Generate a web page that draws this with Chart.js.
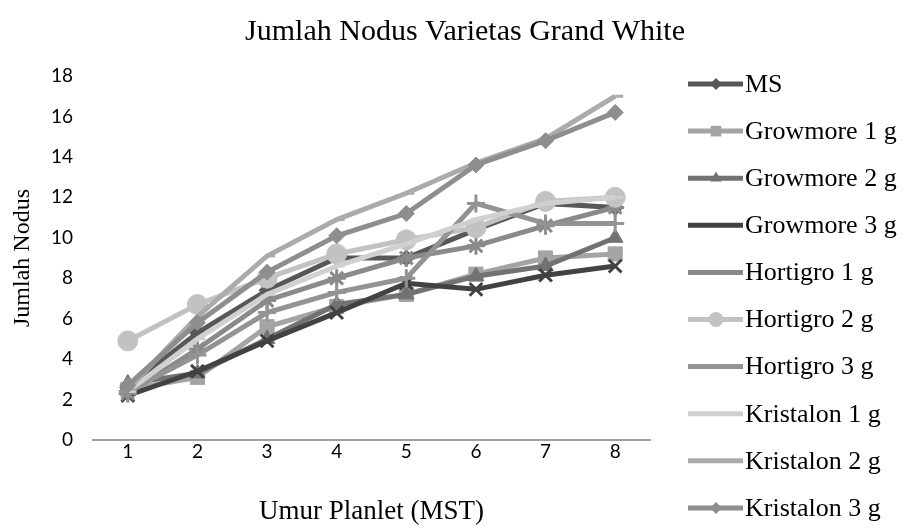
<!DOCTYPE html>
<html>
<head>
<meta charset="utf-8">
<script src="https://cdn.jsdelivr.net/npm/chart.js@4.4.1/dist/chart.umd.min.js"></script>
<style>
  body { margin: 0; background: #fff; }
  #wrap { width: 904px; height: 528px; position: relative; }
</style>
</head>
<body>
<div id="wrap"><canvas id="nodusChart"></canvas></div>
<script>
// data
var weeks = ['1', '2', '3', '4', '5', '6', '7', '8'];
var seriesNames = ['MS', 'Growmore 1 g', 'Growmore 2 g', 'Growmore 3 g', 'Hortigro 1 g',
    'Hortigro 2 g', 'Hortigro 3 g', 'Kristalon 1 g', 'Kristalon 2 g', 'Kristalon 3 g'];
var ms = [2.6, 5.3, 7.4, 9.0, 9.0, 10.4, 11.7, 11.5];
var growmore1 = [2.5, 3.1, 5.6, 6.6, 7.2, 8.2, 9.0, 9.2];
var growmore2 = [2.8, 3.3, 5.0, 6.7, 7.2, 8.1, 8.6, 10.0];
var growmore3 = [2.2, 3.4, 4.9, 6.3, 7.75, 7.45, 8.15, 8.6];
var hortigro1 = [2.3, 4.5, 6.9, 8.0, 9.0, 9.6, 10.6, 11.5];
var hortigro2 = [4.9, 6.7, 8.0, 9.2, 9.9, 10.5, 11.8, 12.0];
var hortigro3 = [2.4, 4.2, 6.3, 7.3, 8.0, 11.7, 10.7, 10.7];
var kristalon1 = [2.4, 5.0, 7.2, 8.6, 9.7, 10.9, 11.7, 12.0];
var kristalon2 = [2.5, 6.1, 9.1, 10.9, 12.2, 13.7, 14.9, 17.0];
var kristalon3 = [2.7, 5.8, 8.3, 10.1, 11.2, 13.6, 14.8, 16.2];
var yTicks = [0, 2, 4, 6, 8, 10, 12, 14, 16, 18];

var allValues = [ms, growmore1, growmore2, growmore3, hortigro1, hortigro2, hortigro3, kristalon1, kristalon2, kristalon3];
var colors = ['#575757', '#a4a4a4', '#727272', '#424242', '#8a8a8a', '#c2c2c2', '#939393', '#d0d0d0', '#ababab', '#8e8e8e'];
var markers = ['rectRot', 'rect', 'triangle', 'crossRot', 'star', 'circle', 'cross', 'dash', 'dash', 'rectRot'];
var markerSize = [8, 10, 9, 9, 9, 10, 9, 8, 8, 8];

var datasets = seriesNames.map(function (name, i) {
    var open = markers[i] == 'crossRot' || markers[i] == 'star' || markers[i] == 'cross' || markers[i] == 'dash';
    return {
        label: name,
        data: allValues[i],
        borderColor: colors[i],
        backgroundColor: colors[i],
        borderWidth: 5,
        pointStyle: markers[i],
        pointRadius: markerSize[i],
        pointBorderWidth: open ? 3 : 1,
        pointBorderColor: colors[i],
        pointBackgroundColor: colors[i],
        tension: 0,
        order: -i
    };
});

// title and line+marker legend drawn by hand, Excel style
var extras = {
    id: 'extras',
    afterDraw: function (chart) {
        var ctx = chart.ctx;
        ctx.save();
        ctx.fillStyle = '#000';
        ctx.font = '30px "Liberation Serif"';
        ctx.textAlign = 'center';
        ctx.textBaseline = 'middle';
        ctx.fillText('Jumlah Nodus Varietas Grand White', 465, 32);

        ctx.textAlign = 'left';
        ctx.font = '26px "Liberation Serif"';
        for (var i = 0; i < seriesNames.length; i++) {
            var y = 84 + i * 47.1;
            ctx.strokeStyle = colors[i];
            ctx.lineWidth = 5;
            ctx.beginPath();
            ctx.moveTo(688, y);
            ctx.lineTo(743, y);
            ctx.stroke();
            ctx.fillStyle = colors[i];
            ctx.lineWidth = markers[i] == 'rectRot' || markers[i] == 'rect' || markers[i] == 'triangle' || markers[i] == 'circle' ? 1 : 2;
            Chart.helpers.drawPoint(ctx, { pointStyle: markers[i], radius: markerSize[i] * 0.75, rotation: 0 }, 716, y);
            ctx.fillStyle = '#000';
            ctx.fillText(seriesNames[i], 745, y + 1);
        }
        ctx.restore();
    }
};

var ctx = document.getElementById('nodusChart').getContext('2d');
var nodusChart = new Chart(ctx, {
    type: 'line',
    data: { labels: weeks, datasets: datasets },
    options: {
        responsive: true,
        maintainAspectRatio: false,
        animation: false,
        layout: { padding: { top: 76, right: 254, left: 0, bottom: 0 } },
        plugins: {
            legend: { display: false },
            tooltip: { enabled: false }
        },
        scales: {
            x: {
                offset: true,
                afterFit: function (axis) { axis.height = 88; },
                grid: { display: false, drawTicks: false },
                border: { display: true, color: '#a0a0a0', width: 2 },
                ticks: { color: '#000', font: { family: 'Lato', size: 19 }, padding: 0 },
                title: { display: true, text: 'Umur Planlet (MST)', color: '#000',
                    font: { family: 'Liberation Serif', size: 27 }, padding: { top: 0, bottom: 0 } }
            },
            y: {
                min: 0,
                max: 18,
                afterFit: function (axis) { axis.width = 93; },
                afterBuildTicks: function (axis) {
                    axis.ticks = yTicks.map(function (v) { return { value: v }; });
                },
                grid: { display: false, drawTicks: false },
                border: { display: false },
                ticks: { color: '#000', font: { family: 'Lato', size: 19 }, padding: 20 },
                title: { display: true, text: 'Jumlah Nodus', color: '#000',
                    font: { family: 'Liberation Serif', size: 24 }, padding: { top: 8, bottom: 0 } }
            }
        }
    },
    plugins: [extras]
});
</script>
</body>
</html>
